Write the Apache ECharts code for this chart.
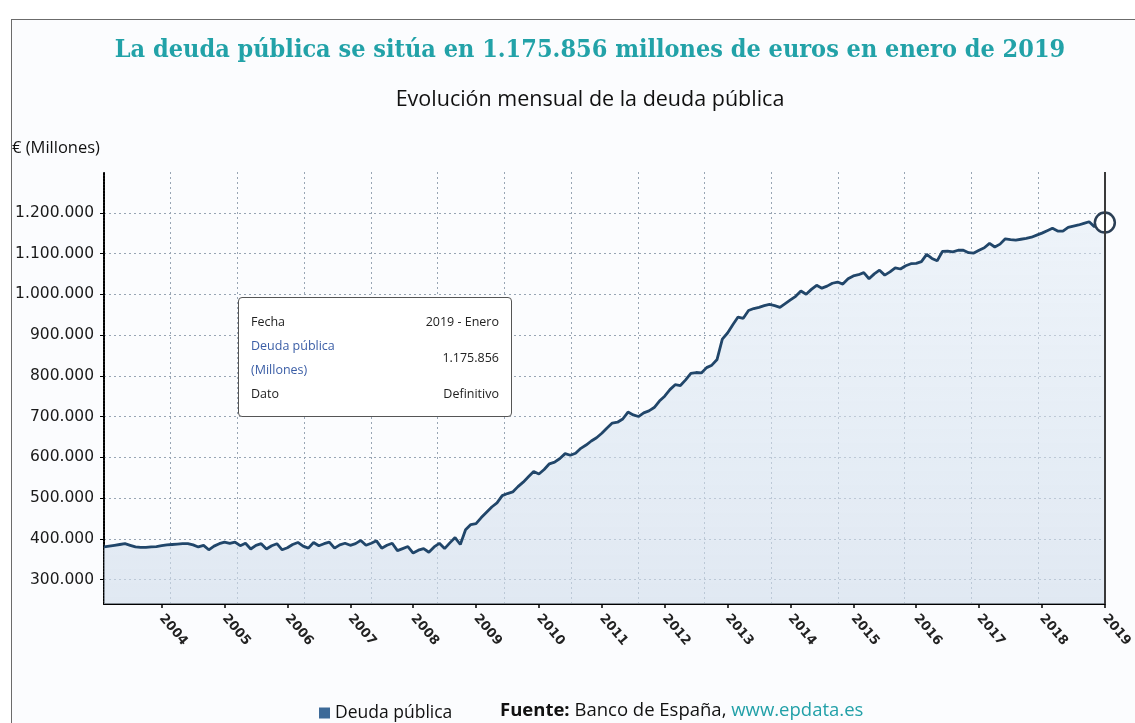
<!DOCTYPE html>
<html>
<head>
<meta charset="utf-8">
<script src="https://cdn.jsdelivr.net/npm/echarts@6/dist/echarts.min.js"></script>
<style>
html,body{margin:0;padding:0;background:#fff;overflow:hidden;}
#frame{position:absolute;left:11px;top:19px;width:1140px;height:720px;border-left:1.5px solid #6b6b6b;border-top:1.5px solid #6b6b6b;background:#fbfcfe;}
#chart{position:absolute;left:0;top:0;width:1135px;height:723px;}
</style>
</head>
<body>
<div id="frame"></div>
<div id="chart"></div>
<script>
// ---- data ----
const startYear = 2003;
const startMonth = 2; // first month shown: February 2003
const deuda = [
  380000,382000,384000,386000,388000,384000,380000,379000,379000,380000,381000,
  383000,385000,386000,387000,388000,388000,385000,380000,384000,
  373000,
  382000,388000,392000,389000,392000,383000,389000,375000,384000,388000,
  375000,383000,388000,373000,378000,386000,391000,382000,377000,391000,
  383000,388000,392000,377000,385000,389000,384000,388000,396000,384000,
  389000,395000,377000,384000,389000,371000,376000,381000,365000,372000,
  376000,367000,380000,389000,376000,390000,403000,386000,422000,435000,
  437000,452000,465000,478000,488000,506000,511000,515000,528000,539000,
  552000,565000,559000,570000,584000,588000,597000,609000,605000,610000,
  622000,630000,640000,648000,659000,672000,684000,686000,694000,711000,
  704000,700000,709000,714000,722000,738000,750000,766000,778000,776000,
  790000,806000,808000,807000,820000,826000,840000,890000,905000,925000,
  944000,941000,960000,965000,968000,972000,975000,972000,968000,977000,
  986000,995000,1008000,1000000,1012000,1022000,1015000,1020000,1027000,1030000,
  1025000,1038000,1045000,1048000,1053000,1038000,1050000,1059000,1047000,1055000,
  1065000,1062000,1070000,1075000,1076000,1080000,1098000,1088000,1082000,1105000,
  1106000,1104000,1108000,1108000,1102000,1101000,1108000,1114000,1125000,1116000,
  1123000,1136000,1134000,1133000,1135000,1137000,1140000,1145000,1150000,1156000,
  1162000,1155000,1155000,1164000,1167000,1170000,1174000,1178000,1166000,1174000,1175856
];
const yTicks = [300000,400000,500000,600000,700000,800000,900000,1000000,1100000,1200000];
const monthNames = ['Enero','Febrero','Marzo','Abril','Mayo','Junio','Julio','Agosto','Septiembre','Octubre','Noviembre','Diciembre'];
const datoTipo = 'Definitivo';
const seriesName = 'Deuda pública';

const months = [];
for (let i = 0; i < deuda.length; i++) {
  const k = startMonth - 1 + i;
  const y = startYear + Math.floor(k / 12);
  const m = k % 12 + 1;
  months.push(y + '-' + String(m).padStart(2, '0'));
}
const last = deuda.length - 1;

function fmt(v) {
  return Math.round(v).toString().replace(/\B(?=(\d{3})+(?!\d))/g, '.');
}
const isJan = (i, v) => v.endsWith('-01');

const chart = echarts.init(document.getElementById('chart'), null, {renderer: 'canvas'});
const option = {
  animation: false,
  backgroundColor: 'transparent',
  graphic: [
    {type: 'text', x: 590, y: 50, silent: true,
     style: {text: 'La deuda pública se sitúa en 1.175.856 millones de euros en enero de 2019',
             textAlign: 'center', textVerticalAlign: 'middle',
             fontFamily: 'DejaVu Serif Condensed, DejaVu Serif', fontWeight: 'bold', fontSize: 25, fill: '#22a2a8'}},
    {type: 'text', x: 590, y: 100, silent: true,
     style: {text: 'Evolución mensual de la deuda pública', textAlign: 'center', textVerticalAlign: 'middle',
             fontFamily: 'Open Sans', fontSize: 21.5, fill: '#111'}},
    {type: 'text', x: 12, y: 148, silent: true,
     style: {text: '€ (Millones)', textAlign: 'left', textVerticalAlign: 'middle',
             fontFamily: 'Open Sans', fontSize: 16.5, fill: '#111'}},
    {type: 'text', x: 500, y: 711, silent: true,
     style: {text: '{b|Fuente:} Banco de España, {l|www.epdata.es}', textAlign: 'left', textVerticalAlign: 'middle',
             fontFamily: 'Open Sans', fontSize: 18.5, fill: '#111',
             rich: {b: {fontWeight: 'bold', fontFamily: 'Open Sans', fontSize: 18.5, fill: '#111'},
                    l: {fill: '#22a0a8', fontFamily: 'Open Sans', fontSize: 18.5}}}}
  ],
  legend: {
    data: [seriesName], left: 314, top: 699, icon: 'rect', itemWidth: 11, itemHeight: 11, itemGap: 6,
    itemStyle: {color: '#3d6a98'},
    textStyle: {fontFamily: 'Open Sans', fontSize: 17.5, color: '#111'}
  },
  grid: {left: 104, right: 28, top: 172, bottom: 119, containLabel: false},
  tooltip: {
    trigger: 'axis', alwaysShowContent: true, transitionDuration: 0,
    position: [238, 297],
    backgroundColor: '#fff', borderColor: '#555', borderWidth: 1.5, padding: [12, 12, 10, 12],
    extraCssText: 'border-radius:4px;box-shadow:none;',
    axisPointer: {type: 'line', animation: false, lineStyle: {color: '#3a3a3a', width: 2, type: 'solid'}},
    formatter: function (params) {
      const p = params[0];
      const parts = p.name.split('-');
      const fecha = parts[0] + ' - ' + monthNames[parseInt(parts[1], 10) - 1];
      return '<div style="font-family:Open Sans;font-size:12.5px;color:#222;line-height:24px;width:248px">' +
        '<div style="display:flex;justify-content:space-between"><span>Fecha</span><span>' + fecha + '</span></div>' +
        '<div style="display:flex;justify-content:space-between;align-items:center"><span style="color:#3b5ea6">' + seriesName + '<br>(Millones)</span><span>' + fmt(p.value) + '</span></div>' +
        '<div style="display:flex;justify-content:space-between"><span>Dato</span><span>' + datoTipo + '</span></div>' +
        '</div>';
    }
  },
  xAxis: [
    {
      type: 'category', data: months, boundaryGap: false,
      axisLine: {lineStyle: {color: '#000', width: 2}},
      axisTick: {interval: isJan, length: 4, lineStyle: {color: '#000', width: 1.5}},
      axisLabel: {interval: isJan, formatter: v => v.slice(0, 4), rotate: -50, margin: 12,
                  fontFamily: 'DejaVu Sans', fontSize: 13, fontWeight: 'bold', color: '#222'},
      splitLine: {show: false}
    },
    {
      type: 'value', min: 0, max: 15, interval: 1, position: 'top',
      axisLine: {show: false}, axisTick: {show: false}, axisLabel: {show: false},
      axisPointer: {show: false},
      splitLine: {show: true, lineStyle: {type: [2, 3], color: '#98a5b4', width: 1}}
    }
  ],
  yAxis: {
    type: 'value', min: 240000, max: 1300000,
    axisLine: {show: true, lineStyle: {color: '#000', width: 2, type: [2, 1]}},
    axisTick: {show: true, customValues: yTicks, length: 4, lineStyle: {color: '#000'}},
    axisLabel: {customValues: yTicks, formatter: fmt, margin: 10, fontFamily: 'DejaVu Sans', fontSize: 15.5, color: '#1a1a1a'},
    splitLine: {show: true, lineStyle: {type: [2, 3], color: '#98a5b4', width: 1}}
  },
  series: [{
    name: seriesName, type: 'line', data: deuda, symbol: 'none', xAxisIndex: 0,
    lineStyle: {color: '#21466a', width: 2.8},
    itemStyle: {color: '#21466a'},
    emphasis: {disabled: true},
    areaStyle: {color: new echarts.graphic.LinearGradient(0, 0, 0, 1, [
      {offset: 0, color: 'rgba(225,234,244,0.75)'},
      {offset: 1, color: 'rgba(208,221,235,0.9)'}
    ])},
    markPoint: {
      silent: true, symbol: 'circle', symbolSize: 20,
      itemStyle: {color: '#fff', borderColor: '#2b3f55', borderWidth: 2.5},
      label: {show: false},
      data: [{coord: [months[last], deuda[last]]}]
    }
  }]
};
chart.setOption(option);
chart.dispatchAction({type: 'showTip', seriesIndex: 0, dataIndex: last});
</script>
</body>
</html>
